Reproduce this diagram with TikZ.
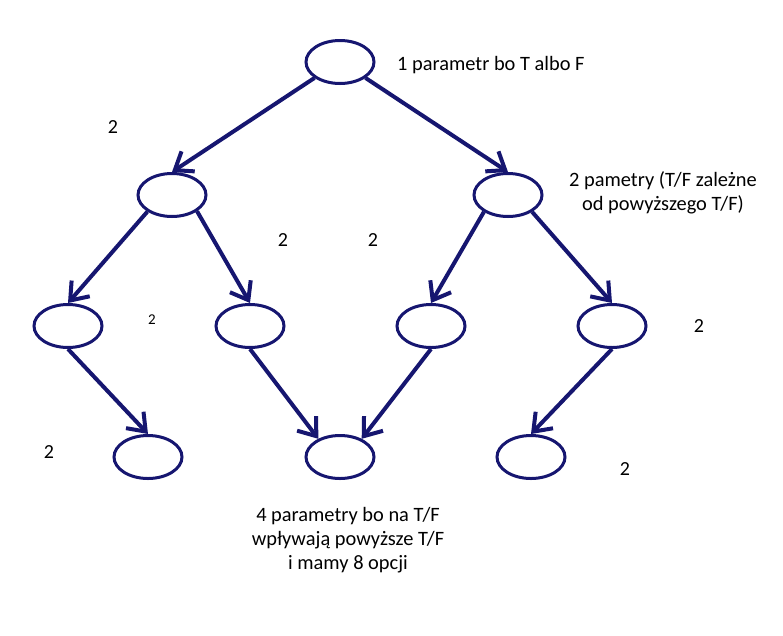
\documentclass[tikz,border=0pt]{standalone}
\usepackage{fontspec}
\setmainfont{Carlito}
\usetikzlibrary{arrows.meta,positioning,shapes.geometric}
\definecolor{inkblue}{RGB}{22,22,112}
\tikzstyle{state} = [ellipse, minimum width=68pt, minimum height=43pt, inner sep=0pt, draw=inkblue, line width=3pt]
\tikzstyle{link} = [-{Straight Barb[length=16pt,width=24pt]}, draw=inkblue, line width=4pt]
\tikzstyle{note} = [font=\fontsize{20.4}{24}\selectfont, align=center, inner sep=0pt]
\tikzstyle{count} = [font=\fontsize{20}{24}\selectfont, inner sep=0pt]

\begin{document}
\begin{tikzpicture}[x=1pt, y=-1pt, node distance=85pt]
			\useasboundingbox (0,0) rectangle (783,635);
			\node[state] (root) at (340,62) {};
			\node[state, below=87pt of root, xshift=-168pt] (left) {};
			\node[state, below=87pt of root, xshift=168pt] (right) {};
			
			\node[state, below=of left, xshift=-104pt] (leftleft) {};
			\node[state, below=of left, xshift=78pt] (leftright) {};
			\node[state, below=of right, xshift=-77pt] (rightleft) {};
			\node[state, below=of right, xshift=104pt] (rightright) {};
			
			\node[state, below=of leftleft, xshift=80pt] (bottomleft) {};
			\node[state, below=of leftright, xshift=90pt] (bottommid) {};
			\node[state, below=of rightright, xshift=-81pt] (bottomright) {};
			
			%notes
			\node[note, anchor=base west] (one) at (397,70) {1 parametr bo T albo F};
			\node[note] (two) at (663,193) {2 pametry (T/F zależne\\od powyższego T/F)};
			\node[note] (four) at (348,540) {4 parametry bo na T/F\\wpływają powyższe T/F\\i mamy 8 opcji};
			
			\node[count] (c1) at (113,127) {2};
			\node[count] (c2) at (283,240) {2};
			\node[count] (c3) at (373,240) {2};
			\node[count, font=\fontsize{15}{18}\selectfont] (c4) at (152,320) {2};
			\node[count] (c5) at (699,326) {2};
			\node[count] (c6) at (49,452) {2};
			\node[count] (c7) at (625,469) {2};
			
			%arrow
			\draw [link] (root.212) -- (left.north);
			\draw [link] (root.-32) -- (right.north);
			\draw [link] (left.214) -- (leftleft.north);
			\draw [link] (left.-33) -- (leftright.north);
			\draw [link] (right.215) -- (rightleft.north);
			\draw [link] (right.-35) -- (rightright.north);
			\draw [link] (leftleft.south) -- (bottomleft.north);
			\draw [link] (leftright.south) -- (bottommid.140);
			\draw [link] (rightleft.south) -- (bottommid.40);
			\draw [link] (rightright.south) -- (bottomright.north);
			
		\end{tikzpicture}
\end{document}
